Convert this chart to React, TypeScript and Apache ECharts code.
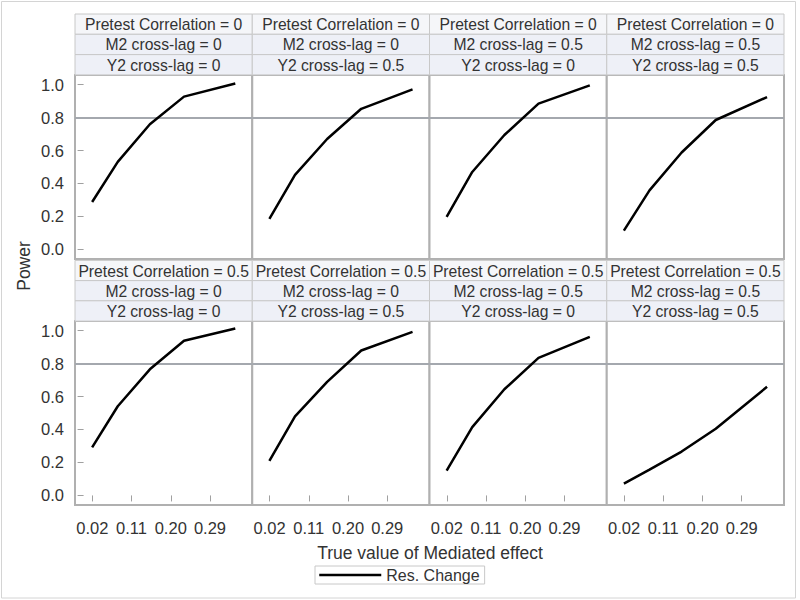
import React, { useEffect, useRef } from "react";
import * as echarts from "echarts";

// Mediated effect values (x) shared by all panels
const X_VALUES = [0.0196, 0.0784, 0.1521, 0.2304, 0.3481];
const X_TICKS = [0.02, 0.11, 0.2, 0.29];
const Y_TICKS = [0, 0.2, 0.4, 0.6, 0.8, 1.0];

// Power per panel (Res. Change)
const powerP0M0Y0 = [0.288, 0.531, 0.759, 0.927, 1.006];
const powerP0M0Y5 = [0.185, 0.452, 0.67, 0.853, 0.971];
const powerP0M5Y0 = [0.198, 0.47, 0.694, 0.884, 0.995];
const powerP0M5Y5 = [0.114, 0.358, 0.588, 0.785, 0.924];
const powerP5M0Y0 = [0.291, 0.541, 0.765, 0.938, 1.013];
const powerP5M0Y5 = [0.209, 0.48, 0.689, 0.879, 0.992];
const powerP5M5Y0 = [0.151, 0.414, 0.644, 0.834, 0.962];
const powerP5M5Y5 = [0.072, 0.157, 0.266, 0.404, 0.659];

const PANEL_POWER = [
  powerP0M0Y0, powerP0M0Y5, powerP0M5Y0, powerP0M5Y5,
  powerP5M0Y0, powerP5M0Y5, powerP5M5Y0, powerP5M5Y5,
];
const PRETEST = ["0", "0", "0", "0", "0.5", "0.5", "0.5", "0.5"];
const M2_LAG = ["0", "0", "0.5", "0.5", "0", "0", "0.5", "0.5"];
const Y2_LAG = ["0", "0.5", "0", "0.5", "0", "0.5", "0", "0.5"];
const SERIES_NAME = "Res. Change";
const REF_POWER = 0.8;

const FONT = "'Liberation Sans', Arial, Helvetica, sans-serif";
const TXT = "#333333";

export default function App() {
  const ref = useRef<HTMLDivElement>(null);

  useEffect(() => {
    document.body.style.margin = "0";
    if (!ref.current) return;
    const chart = echarts.init(ref.current, null, { renderer: "svg" });

    const colW = 177.25;
    const colLeft = [0, 1, 2, 3].map((c) => 75 + c * colW);
    const rowTop = [75, 321];
    const plotH = 184;
    const headerTops = [
      [14, 34.3, 54.6],
      [260.4, 280.6, 300.8],
    ];
    const cellH = 20.3;

    const grids: any[] = [];
    const xAxes: any[] = [];
    const yAxes: any[] = [];
    const series: any[] = [];
    const graphics: any[] = [];

    PANEL_POWER.forEach((vals, i) => {
      const r = Math.floor(i / 4);
      const c = i % 4;
      grids.push({
        left: colLeft[c],
        top: rowTop[r],
        width: colW,
        height: plotH,
        show: true,
        borderColor: "#b0b0b0",
        borderWidth: 2,
        backgroundColor: "#ffffff",
        containLabel: false,
      });
      const bottomRow = r === 1;
      const firstCol = c === 0;
      xAxes.push({
        type: "value",
        gridIndex: i,
        min: -0.0197,
        max: 0.387,
        axisLine: { show: false },
        splitLine: { show: false },
        axisTick: {
          show: bottomRow,
          customValues: X_TICKS,
          length: 6,
          lineStyle: { color: "#a0a0a0", width: 1 },
        },
        axisLabel: {
          show: bottomRow,
          customValues: X_TICKS,
          formatter: (v: number) => v.toFixed(2),
          fontSize: 16.5,
          fontFamily: FONT,
          color: TXT,
          margin: 14,
        },
      });
      yAxes.push({
        type: "value",
        gridIndex: i,
        min: -0.058,
        max: 1.058,
        axisLine: { show: false },
        splitLine: { show: false },
        axisTick: {
          show: firstCol,
          customValues: Y_TICKS,
          length: 6,
          lineStyle: { color: "#a0a0a0", width: 1 },
        },
        axisLabel: {
          show: firstCol,
          customValues: Y_TICKS,
          formatter: (v: number) => v.toFixed(1),
          fontSize: 16.5,
          fontFamily: FONT,
          color: TXT,
          margin: 11,
        },
      });
      series.push({
        type: "line",
        name: SERIES_NAME,
        xAxisIndex: i,
        yAxisIndex: i,
        data: X_VALUES.map((x, k) => [x, vals[k]]),
        symbol: "none",
        lineStyle: { color: "#000000", width: 2.5 },
        itemStyle: { color: "#000000" },
        z: 3,
        markLine: {
          silent: true,
          symbol: ["none", "none"],
          label: { show: false },
          lineStyle: { color: "#a4a8ae", width: 2, type: "solid" },
          data: [{ yAxis: REF_POWER }],
          z: 2,
        },
      });

      // header cells
      const texts = [
        `Pretest Correlation = ${PRETEST[i]}`,
        `M2 cross-lag = ${M2_LAG[i]}`,
        `Y2 cross-lag = ${Y2_LAG[i]}`,
      ];
      texts.forEach((t, h) => {
        const top = headerTops[r][h];
        graphics.push({
          type: "rect",
          shape: { x: colLeft[c], y: top, width: colW, height: cellH },
          style: {
            fill: h === 0 ? "#f5f6f9" : "#eef0f7",
            stroke: "#c8c8c8",
            lineWidth: 1,
          },
          z: 1,
        });
        graphics.push({
          type: "text",
          x: colLeft[c] + colW / 2,
          y: top + cellH / 2 + 0.5,
          style: {
            text: t,
            fontSize: 15.7,
            fontFamily: FONT,
            fill: TXT,
            align: "center",
            verticalAlign: "middle",
          },
          z: 2,
        });
      });
    });

    graphics.push({
      type: "rect",
      shape: { x: 1.5, y: 1.5, width: 794, height: 596.5 },
      style: { fill: "none", stroke: "#d4d4d4", lineWidth: 1 },
      z: 0,
    });
    graphics.push({
      type: "text",
      x: 24,
      y: 266,
      rotation: Math.PI / 2,
      style: {
        text: "Power",
        fontSize: 17.5,
        fontFamily: FONT,
        fill: TXT,
        align: "center",
        verticalAlign: "middle",
      },
    });
    graphics.push({
      type: "text",
      x: 430,
      y: 553,
      style: {
        text: "True value of Mediated effect",
        fontSize: 17.5,
        fontFamily: FONT,
        fill: TXT,
        align: "center",
        verticalAlign: "middle",
      },
    });

    chart.setOption({
      animation: false,
      backgroundColor: "#ffffff",
      grid: grids,
      xAxis: xAxes,
      yAxis: yAxes,
      series,
      graphic: graphics,
      legend: {
        data: [SERIES_NAME],
        left: 315,
        top: 566,
        padding: [1, 5, 1, 3],
        itemWidth: 62,
        itemHeight: 14,
        itemGap: 6,
        borderColor: "#c8c8c8",
        borderWidth: 1,
        selectedMode: false,
        itemStyle: { opacity: 0 },
        lineStyle: { color: "#000000", width: 2.5 },
        textStyle: { fontSize: 16, fontFamily: FONT, color: TXT },
      },
    });

    return () => chart.dispose();
  }, []);

  return <div ref={ref} style={{ width: 800, height: 600 }} />;
}
